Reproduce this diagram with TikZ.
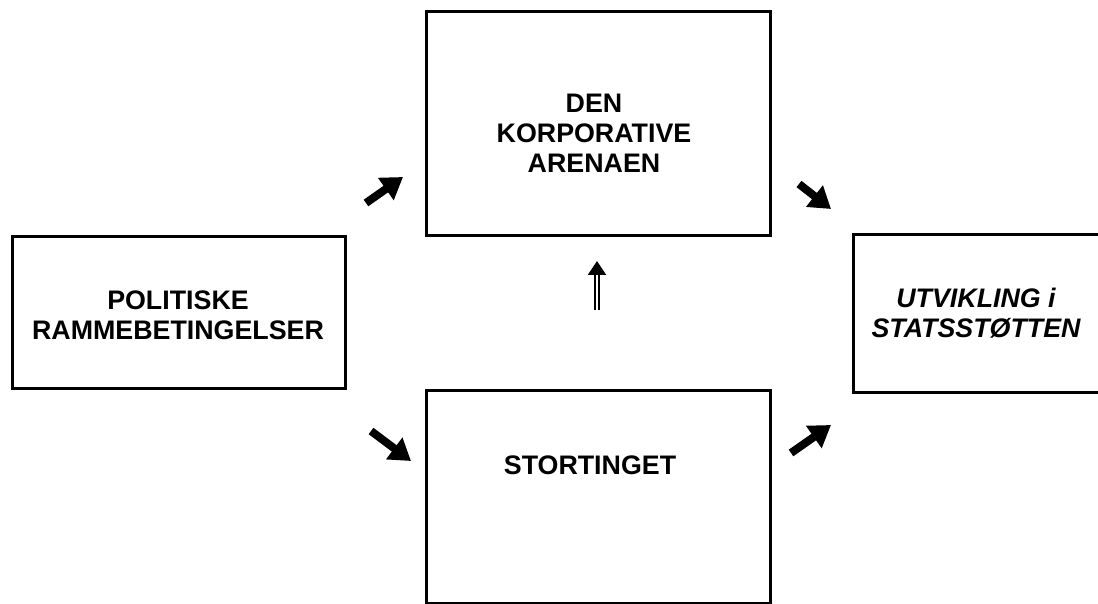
\documentclass[tikz,border=0pt]{standalone}
\usepackage{fontspec}
\setmainfont{Liberation Sans}
\usetikzlibrary{arrows.meta}
\tikzset{
  box/.style={draw, line width=1.5pt, rectangle, inner sep=0pt},
  lbl/.style={font=\fontsize{13.4}{15}\selectfont\bfseries, align=center, inner sep=0pt},
  fatarrow/.style={line width=4pt, -{Triangle[length=10.5pt,width=13pt]}},
  dblarrow/.style={double, double distance=1.3pt, line width=1pt, -{Triangle[length=7pt,width=9pt]}}
}
\begin{document}
\begin{tikzpicture}[x=0.5pt,y=-0.5pt]
\useasboundingbox (0,0) rectangle (1098,604);
\clip (0,0) rectangle (1098,604);
% boxes
\node[box, minimum width=166.5pt, minimum height=75.5pt] (left) at (178.5,312.5) {};
\node[box, minimum width=172pt, minimum height=112pt] (top) at (598,124) {};
\node[box, minimum width=172pt, minimum height=106.5pt] (bottom) at (598,496.5) {};
\node[box, minimum width=133.5pt, minimum height=78.5pt] (right) at (986.5,313.5) {};
% texts
\node[lbl] (ltext) at (178,315) {POLITISKE\\RAMMEBETINGELSER};
\node[lbl] (ttext) at (594,133) {DEN\\KORPORATIVE\\ARENAEN};
\node[lbl] (btext) at (590,465) {STORTINGET};
\node[lbl, font=\fontsize{13.4}{15}\selectfont\bfseries\itshape] (rtext) at (976,313) {UTVIKLING i\\STATSSTØTTEN};
% arrow end points
\coordinate (a1s) at (366,203); \coordinate (a1e) at (403,177);
\coordinate (a2s) at (799,184); \coordinate (a2e) at (831,209);
\coordinate (a3s) at (371,431); \coordinate (a3e) at (411,461);
\coordinate (a4s) at (791,453); \coordinate (a4e) at (831,425);
\coordinate (d1s) at (597,310); \coordinate (d1e) at (597,261);
\draw[fatarrow] (a1s) -- (a1e);
\draw[fatarrow] (a2s) -- (a2e);
\draw[fatarrow] (a3s) -- (a3e);
\draw[fatarrow] (a4s) -- (a4e);
\draw[dblarrow] (d1s) -- (d1e);
\end{tikzpicture}
\end{document}
